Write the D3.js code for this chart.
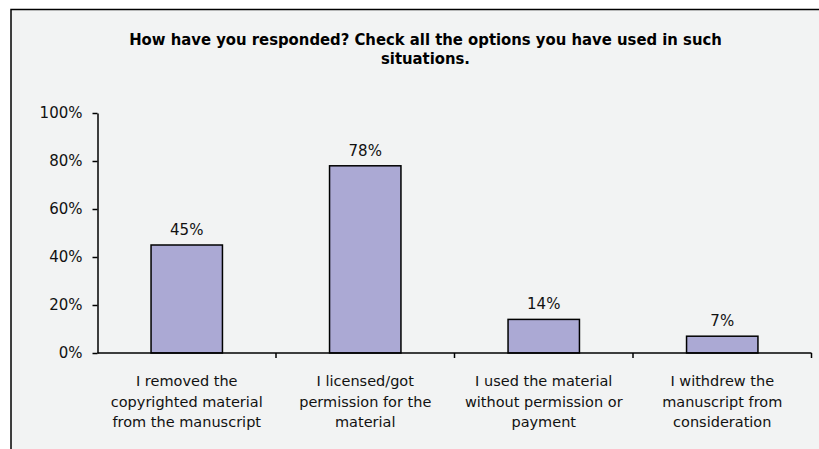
<!DOCTYPE html>
<html>
<head>
<meta charset="utf-8">
<script src="https://cdn.jsdelivr.net/npm/d3@7"></script>
<style>
  html, body { margin: 0; padding: 0; background: #ffffff; }
  svg { display: block; }
</style>
</head>
<body>
<svg id="chart" width="819" height="449"></svg>
<script>
// Survey responses: share of respondents choosing each option
const categories = [
  ["I removed the", "copyrighted material", "from the manuscript"],
  ["I licensed/got", "permission for the", "material"],
  ["I used the material", "without permission or", "payment"],
  ["I withdrew the", "manuscript from", "consideration"]
];
const values = [0.45, 0.78, 0.14, 0.07];
const valueLabels = ["45%", "78%", "14%", "7%"];
const yTicks = [0, 0.2, 0.4, 0.6, 0.8, 1.0];
const titleLines = [
  "How have you responded? Check all the options you have used in such",
  "situations."
];

const svg = d3.select("#chart");
const font = "'DejaVu Sans', Verdana, sans-serif";

// chart panel with border
svg.append("rect")
  .attr("x", 11).attr("y", 9.5)
  .attr("width", 840).attr("height", 480)
  .attr("fill", "#f2f3f3")
  .attr("stroke", "#000").attr("stroke-width", 1.5);

// title
svg.append("g").selectAll("text")
  .data(titleLines)
  .join("text")
  .attr("x", 425.5)
  .attr("y", (d, i) => 45 + i * 18.5)
  .attr("text-anchor", "middle")
  .attr("font-family", "'DejaVu Sans Condensed', 'DejaVu Sans', sans-serif")
  .attr("font-weight", "bold")
  .attr("font-size", 16.5)
  .attr("fill", "#000")
  .text(d => d);

const x = d3.scaleBand()
  .domain(d3.range(categories.length))
  .range([97.5, 811.5])
  .paddingInner(0.6)
  .paddingOuter(0.3);

const xOuter = d3.scaleBand()
  .domain(d3.range(categories.length))
  .range([97.5, 811.5]);

const y = d3.scaleLinear().domain([0, 1]).range([353, 113]);

// bars
svg.append("g").selectAll("rect")
  .data(values)
  .join("rect")
  .attr("x", (d, i) => x(i))
  .attr("y", d => y(d))
  .attr("width", x.bandwidth())
  .attr("height", d => y(0) - y(d))
  .attr("fill", "#aba9d4")
  .attr("stroke", "#000")
  .attr("stroke-width", 1.5);

// value labels
svg.append("g").selectAll("text")
  .data(values)
  .join("text")
  .attr("x", (d, i) => x(i) + x.bandwidth() / 2)
  .attr("y", d => y(d) - 10)
  .attr("text-anchor", "middle")
  .attr("font-family", font)
  .attr("font-size", 15)
  .attr("fill", "#111")
  .text((d, i) => valueLabels[i]);

// y axis
const yAxis = d3.axisLeft(y)
  .tickValues(yTicks)
  .tickFormat(d3.format(".0%"))
  .tickSize(5)
  .tickSizeOuter(0)
  .tickPadding(10);
const gy = svg.append("g")
  .attr("transform", "translate(97.5,0)")
  .call(yAxis);
gy.select(".domain").attr("stroke", "#000").attr("stroke-width", 1.5);
gy.selectAll(".tick line").attr("stroke", "#000").attr("stroke-width", 1.5);
gy.selectAll(".tick text")
  .attr("font-family", font)
  .attr("font-size", 15)
  .attr("fill", "#111");

// x axis: ticks at category boundaries
const boundaries = d3.range(categories.length + 1).map(i =>
  i < categories.length ? xOuter(i) : xOuter(i - 1) + xOuter.bandwidth());
const gx = svg.append("g");
gx.append("line")
  .attr("x1", boundaries[0]).attr("x2", boundaries[boundaries.length - 1])
  .attr("y1", y(0)).attr("y2", y(0))
  .attr("stroke", "#000").attr("stroke-width", 1.5);
gx.selectAll("line.tick")
  .data(boundaries.slice(1))
  .join("line")
  .attr("class", "tick")
  .attr("x1", d => d).attr("x2", d => d)
  .attr("y1", y(0)).attr("y2", y(0) + 5)
  .attr("stroke", "#000").attr("stroke-width", 1.5);

// category labels
const labelGroups = gx.selectAll("text.cat")
  .data(categories)
  .join("text")
  .attr("class", "cat")
  .attr("text-anchor", "middle")
  .attr("font-family", font)
  .attr("font-size", 14.5)
  .attr("fill", "#111");
labelGroups.selectAll("tspan")
  .data((d, i) => d.map(line => ({ line, i })))
  .join("tspan")
  .attr("x", d => xOuter(d.i) + xOuter.bandwidth() / 2)
  .attr("y", (d, j) => 386 + j * 20.5)
  .text(d => d.line);
</script>
</body>
</html>
